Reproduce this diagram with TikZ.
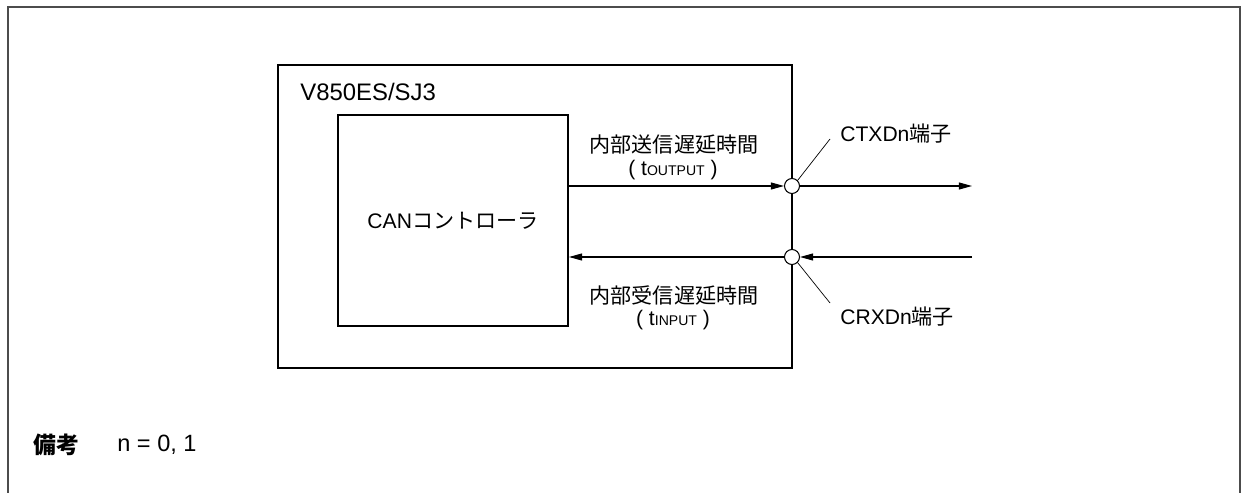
\documentclass[tikz,border=0pt]{standalone}
\usepackage{fontspec}
\setmainfont{Liberation Sans}
\newfontfamily\jp{Noto Sans CJK JP}
\usetikzlibrary{arrows.meta, positioning}

\begin{document}
\begin{tikzpicture}[
    x=0.02cm, y=-0.02cm,
    font=\fontsize{12}{14}\selectfont,
    box/.style={rectangle, draw=black, line width=1.1pt, inner sep=0pt},
    pin/.style={circle, draw=black, fill=white, line width=0.6pt, minimum size=0.3cm, inner sep=0pt},
    sig/.style={line width=0.6pt, -{Triangle[length=7.5pt, width=4pt]}},
    lead/.style={line width=0.4pt},
    lbl/.style={inner sep=0pt}
]
    \useasboundingbox (0,0) rectangle (1241,493);

    % outer frame, open at the bottom
    \draw[black!70, line width=0.9pt] (8,493) |- (1240,7) -- (1240,493);

    \node[box, minimum width=10.28cm, minimum height=6.06cm] (chip) at (535,216.5) {};
    \node[box, minimum width=4.6cm, minimum height=4.22cm] (can) at (453,220.5) {CAN{\jp コントローラ}};
    \node[lbl, anchor=west, font=\fontsize{13.6}{15}\selectfont] (chipname) at (300,92) {V850ES/SJ3};

    \node[pin] (tx) at (792,186) {};
    \node[pin] (rx) at (792,257) {};
    \coordinate (txend) at (972,186);
    \coordinate (rxend) at (972,257);

    \draw[sig] (can.east |- tx) -- (tx);
    \draw[sig] (tx) -- (txend);
    \draw[sig] (rxend) -- (rx);
    \draw[sig] (rx) -- (can.east |- rx);

    \node[lbl] (txdelay) at (674,145) {\jp 内部送信遅延時間};
    \node[lbl] (txsym) at (673,170) {( t{\fontsize{8}{9}\selectfont OUTPUT} )};
    \node[lbl] (rxdelay) at (674,295) {\jp 内部受信遅延時間};
    \node[lbl] (rxsym) at (673,320) {( t{\fontsize{8}{9}\selectfont INPUT} )};

    \node[lbl, anchor=west] (ctxd) at (840,134) {CTXDn{\jp 端子}};
    \node[lbl, anchor=west] (crxd) at (840,317) {CRXDn{\jp 端子}};
    \coordinate (txlead) at (830,139);
    \coordinate (rxlead) at (830,303);
    \draw[lead] (tx.north east) -- (txlead);
    \draw[lead] (rx.south east) -- (rxlead);

    \node[lbl, anchor=west, font=\fontsize{13}{15}\selectfont] (note) at (33,445) {\jp\bfseries 備考};
    \node[lbl, anchor=west, font=\fontsize{13.4}{15}\selectfont] (noteval) at (117,445) {n = 0, 1};
\end{tikzpicture}
\end{document}
